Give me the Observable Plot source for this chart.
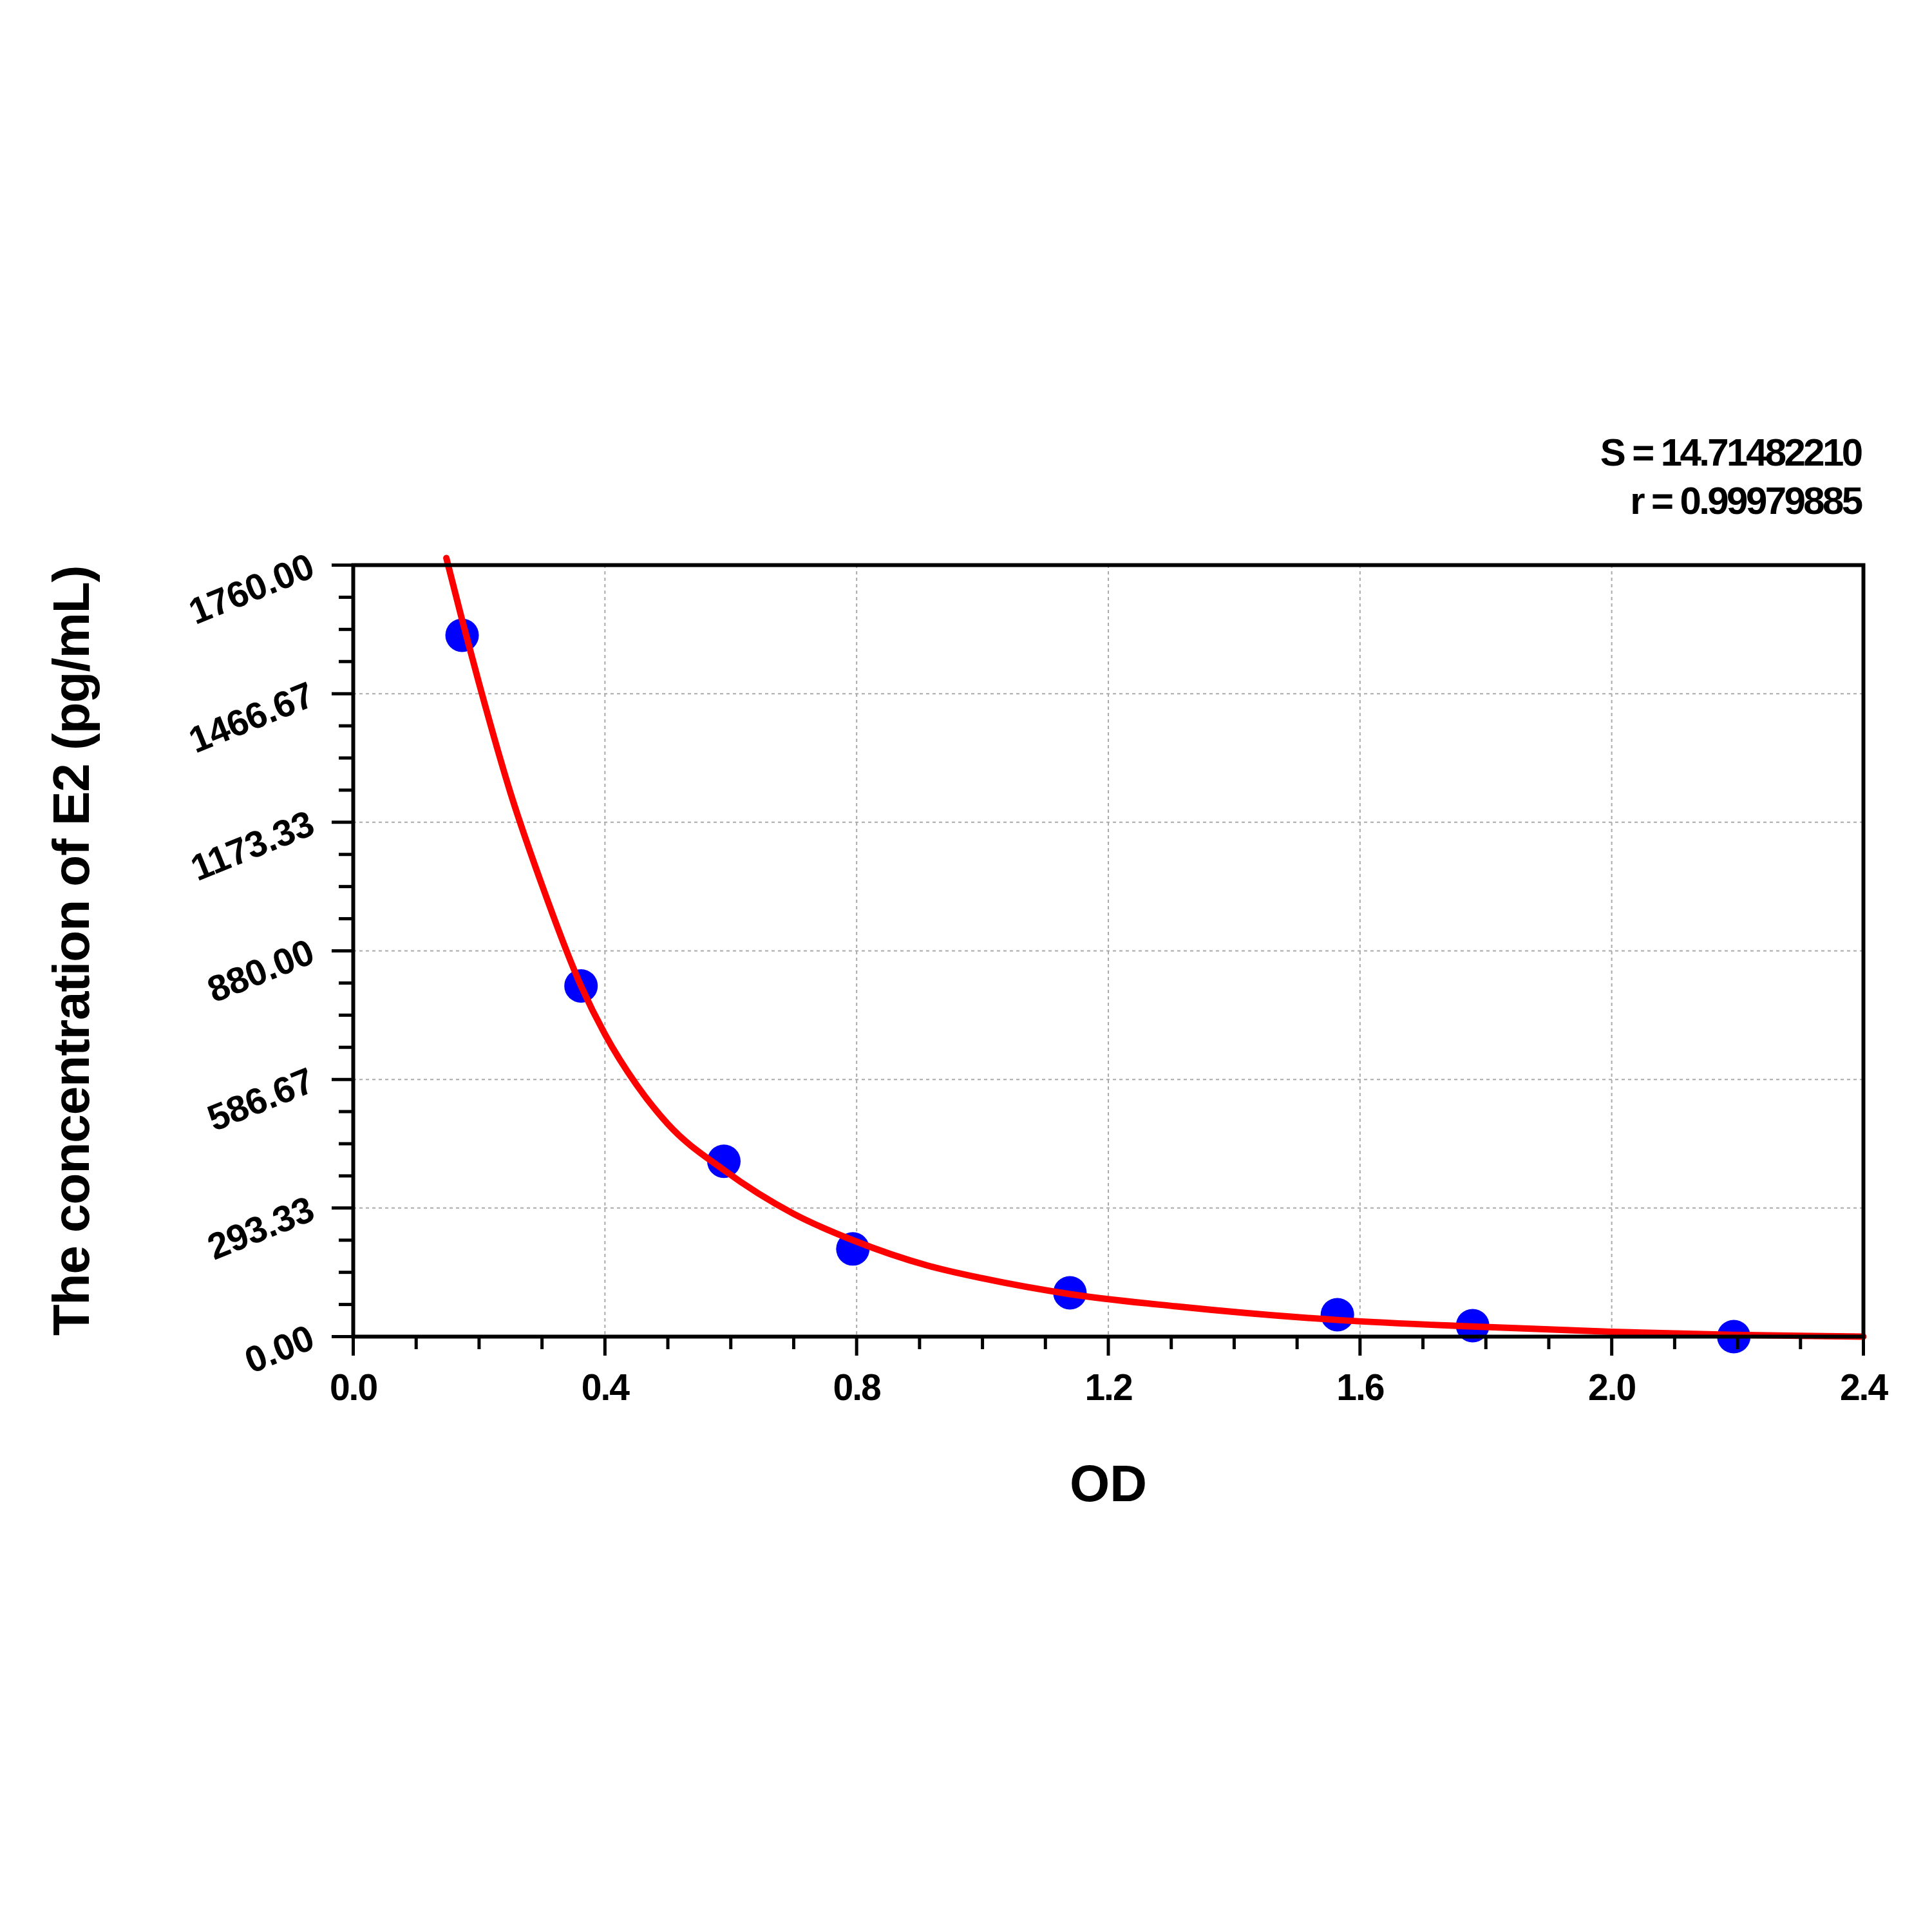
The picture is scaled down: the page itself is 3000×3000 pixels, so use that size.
<!DOCTYPE html>
<html><head><meta charset="utf-8">
<script src="https://cdn.jsdelivr.net/npm/d3@7"></script>
<script src="https://cdn.jsdelivr.net/npm/@observablehq/plot@0.6"></script>
<style>body{margin:0;background:#fff}</style>
</head><body><div id="chart"></div>
<script>
// Standard points (OD, concentration pg/mL)
const pointOD   = [0.173, 0.362, 0.589, 0.794, 1.139, 1.564, 1.779, 2.194];
const pointConc = [1600, 800, 400, 200, 100, 50, 25, 0];

// Fitted curve
const curveOD   = [0.148, 0.173, 0.200, 0.250, 0.300, 0.362, 0.400, 0.450, 0.500, 0.589, 0.700, 0.794, 0.913, 1.000, 1.139, 1.308, 1.564, 1.779, 2.000, 2.194, 2.400];
const curveConc = [1776, 1635, 1490, 1240, 1030, 800, 690, 575, 485, 380, 280, 220, 162, 133, 97, 69, 38, 23, 11, 4, 0];

const xTicks = [0.0, 0.4, 0.8, 1.2, 1.6, 2.0, 2.4];
const xMinorTicks = [0.1, 0.2, 0.3, 0.5, 0.6, 0.7, 0.9, 1.0, 1.1, 1.3, 1.4, 1.5, 1.7, 1.8, 1.9, 2.1, 2.2, 2.3];
const xGridTicks = [0.4, 0.8, 1.2, 1.6, 2.0];
const yTicks = [0.00, 293.33, 586.67, 880.00, 1173.33, 1466.67, 1760.00];
const yMinorTicks = [73.33, 146.67, 220.00, 366.67, 440.00, 513.33, 660.00, 733.33, 806.67, 953.33, 1026.67, 1100.00, 1246.67, 1320.00, 1393.33, 1540.00, 1613.33, 1686.67];
const yGridTicks = [293.33, 586.67, 880.00, 1173.33, 1466.67];

const xTitle = "OD";
const yTitle = "The concentration of E2 (pg/mL)";
const statLines = ["S = 14.71482210", "r = 0.99979885"];

const points = pointOD.map((x, i) => ({x, y: pointConc[i]}));
const curve = curveOD.map((x, i) => ({x, y: curveConc[i]}));

const svg = Plot.plot({
  width: 3000,
  height: 3000,
  marginLeft: 548,
  marginRight: 107,
  marginTop: 877,
  marginBottom: 925,
  style: {fontFamily: "'Liberation Sans', Arial, sans-serif", fontWeight: "bold", background: "#fff", color: "#000"},
  x: {domain: [0, 2.4], axis: null},
  y: {domain: [0, 1760], axis: null},
  marks: [
    Plot.gridX(xGridTicks, {stroke: "#aaa", strokeOpacity: 1, strokeWidth: 2, strokeDasharray: "5,5"}),
    Plot.gridY(yGridTicks, {stroke: "#aaa", strokeOpacity: 1, strokeWidth: 2, strokeDasharray: "5,5"}),
    Plot.dot(points, {x: "x", y: "y", r: 26, fill: "#0000ff", stroke: null}),
    Plot.line(curve, {x: "x", y: "y", stroke: "#ff0000", strokeWidth: 10, curve: "monotone-x"}),
    Plot.frame({stroke: "#000", strokeWidth: 6}),
    Plot.axisX(xTicks, {tickSize: 30, strokeWidth: 5, tickFormat: () => "", label: null}),
    Plot.axisX(xMinorTicks, {tickSize: 20, strokeWidth: 5, tickFormat: () => "", label: null}),
    Plot.axisY(yTicks, {tickSize: 33, strokeWidth: 5, tickFormat: () => "", label: null}),
    Plot.axisY(yMinorTicks, {tickSize: 22, strokeWidth: 5, tickFormat: () => "", label: null}),
    Plot.text(xTicks, {x: d => d, text: d => d.toFixed(1), frameAnchor: "bottom", textAnchor: "middle", dy: 98, lineAnchor: "bottom", fontSize: 57, fill: "#000", ariaDescription: "xlabels"}),
    Plot.text(yTicks, {y: d => d, text: d => d.toFixed(2), frameAnchor: "left", dx: -64, textAnchor: "end", lineAnchor: "middle", rotate: -22, fontSize: 57, fill: "#000", ariaDescription: "ylabels"}),
    Plot.text([xTitle], {text: d => d, frameAnchor: "bottom", textAnchor: "middle", dy: 255, lineAnchor: "bottom", fontSize: 80, fill: "#000"}),
    Plot.text([yTitle], {text: d => d, frameAnchor: "left", textAnchor: "middle", dx: -411, rotate: -90, lineAnchor: "bottom", fontSize: 80, fill: "#000", ariaDescription: "ytitle"}),
    Plot.text([statLines.join("\n")], {text: d => d, frameAnchor: "top-right", textAnchor: "end", lineAnchor: "bottom", lineHeight: 1.24, dx: -4, dy: -80, fontSize: 60, fill: "#000", ariaDescription: "stats"})
  ]
});
document.getElementById("chart").appendChild(svg);
const spacing = {stats: "-3.6px", xlabels: "-2px", ylabels: "-0.5px", ytitle: "-1px"};
for (const [k, v] of Object.entries(spacing)) {
  d3.select(svg).selectAll(`g[aria-description="${k}"] text, g[aria-description="${k}"] tspan`)
    .attr("letter-spacing", v).style("letter-spacing", v);
}
</script>
</body></html>
